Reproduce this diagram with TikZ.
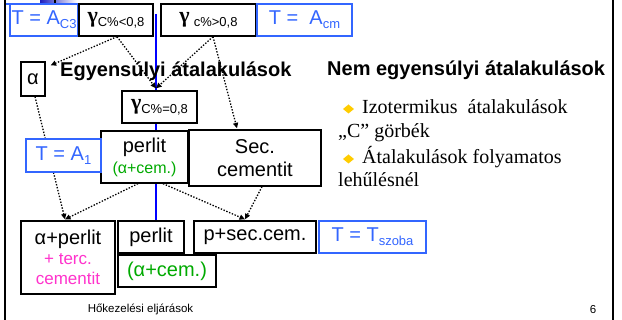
\documentclass[tikz,border=0pt]{standalone}
\usepackage{fontspec}
\setmainfont{Liberation Serif}
\setsansfont{Liberation Sans}
\usetikzlibrary{arrows.meta}
\definecolor{tblue}{RGB}{51,102,255}
\definecolor{lblue}{RGB}{0,0,255}
\definecolor{tgreen}{RGB}{0,170,0}
\definecolor{tmag}{RGB}{255,51,204}
\definecolor{tgold}{RGB}{255,204,0}
\definecolor{navy}{RGB}{30,30,190}
\newcommand\fsz[2]{\fontsize{#1}{#2}\selectfont}
\newcommand\subtxt[1]{\raisebox{-4pt}{\fsz{13}{13}#1}}
\newcommand\gam{{\rmfamily\bfseries\fsz{22}{22}γ}}
\begin{document}
\begin{tikzpicture}[x=1pt,y=-1pt,
  bx/.style={draw=black,line width=1.3pt,fill=white,inner sep=0pt,align=center,font=\sffamily\fsz{20}{23}},
  bbx/.style={bx,draw=tblue,text=tblue},
  dotarr/.style={line width=1.3pt,dash pattern=on 1.4pt off 1.6pt,-{Triangle[length=5.5pt,width=5pt]}},
  frame/.style={line width=1.6pt,black},
  txt/.style={inner sep=0pt,anchor=base west},
  bullet/.style={fill=tgold}
]
\useasboundingbox (0,0) rectangle (622,320);
% slide frame
\draw[frame] (5,0) -- (5,320);
\draw[frame] (613,0) -- (613,320);
\shade[left color=navy,right color=white] (40,0) rectangle (77,3);
\draw[line width=1.2pt] (55,0) -- (55,3);
\draw[tblue,line width=1.2pt] (6,4) -- (10,4);
% blue vertical line
\coordinate (btop) at (156,14);
\coordinate (bbot) at (156,221);
\draw[lblue,line width=1.3pt] (btop) -- (bbot);
% boxes
\node[bbx,minimum width=68pt,minimum height=32pt] (Tac3) at (44,20) {T = A\subtxt{C3}};
\node[bx,minimum width=74pt,minimum height=32pt] (g1) at (116,20) {\gam\subtxt{C\%<0,8}};
\node[bx,minimum width=95pt,minimum height=32pt] (g2) at (208.5,20) {\gam\hspace{4pt}\subtxt{c\%>0,8}};
\node[bbx,minimum width=95pt,minimum height=32pt] (Tacm) at (304.5,20) {T =\ \ A\subtxt{cm}};
\node[bx,minimum width=24pt,minimum height=34pt] (alpha) at (33,79) {α};
\node[bx,minimum width=75pt,minimum height=32pt] (g0) at (159.5,107) {\gam\subtxt{C\%=0,8}};
\node[bx,minimum width=87pt,minimum height=52pt] (perlit) at (144.5,157) {perlit\\[-2pt]{\color{tgreen}\fsz{16}{18}(α+cem.)}};
\node[bx,minimum width=132pt,minimum height=56pt] (sec) at (255,158) {Sec.\\cementit};
\node[bx,minimum width=94pt,minimum height=73pt] (ap) at (68,257.5) {α+perlit\\[-3pt]{\color{tmag}\fsz{17}{19}+ terc.}\\[-3pt]{\color{tmag}\fsz{17}{19}cementit}};
\node[bx,minimum width=66pt,minimum height=32pt] (perl2) at (151,237) {perlit};
\node[bx,text=tgreen,minimum width=98pt,minimum height=32pt] (acem) at (167,271) {(α+cem.)};
\node[bx,minimum width=122pt,minimum height=32pt] (psec) at (255,237) {p+sec.cem.};
\node[bbx,minimum width=107pt,minimum height=32pt] (Tsz) at (372.5,237) {T = T\subtxt{szoba}};
% dotted arrows
\draw[dotarr] ([xshift=1pt]g1.south) -- ([xshift=5pt,yshift=-4pt]alpha.north east);
\draw[dotarr] ([xshift=1pt]g1.south) -- ([xshift=-3.5pt,yshift=2pt]g0.north);
\draw[dotarr] ([xshift=4.5pt]g2.south) -- ([xshift=-3.5pt,yshift=2pt]g0.north);
\draw[dotarr] ([xshift=4.5pt]g2.south) -- ([xshift=-18pt,yshift=1pt]sec.north);
\draw[dotarr] ([xshift=2pt]alpha.south) -- ([xshift=-3pt,yshift=1pt]ap.north);
\draw[dotarr] ([xshift=-6.5pt]perlit.south) -- ([xshift=-3pt,yshift=1pt]ap.north);
\draw[dotarr] ([xshift=18.5pt]perlit.south) -- ([xshift=-10pt,yshift=1pt]psec.north);
\draw[dotarr] ([xshift=7pt]sec.south) -- ([xshift=-10pt,yshift=1pt]psec.north);
\node[bbx,minimum width=75pt,minimum height=33pt] (TA1) at (63.5,155.5) {T = A\subtxt{1}};
% headings
\node[txt,font=\sffamily\bfseries\fsz{20}{23}] (h1) at (60,77) {Egyensúlyi átalakulások};
\node[txt,font=\sffamily\bfseries\fsz{20}{23}] (h2) at (327,76) {Nem egyensúlyi átalakulások};
% bullet list
\fill[bullet] (348.5,104.5) -- (354,109) -- (348.5,113.5) -- (343,109) -- cycle;
\node[txt,font=\rmfamily\fsz{20}{23}] (l1) at (362,114) {Izotermikus\ \ átalakulások};
\node[txt,font=\rmfamily\fsz{20}{23}] (l2) at (338,138) {„C” görbék};
\fill[bullet] (348.5,154.5) -- (354,159) -- (348.5,163.5) -- (343,159) -- cycle;
\node[txt,font=\rmfamily\fsz{20}{23}] (l3) at (362,164) {Átalakulások folyamatos};
\node[txt,font=\rmfamily\fsz{20}{23}] (l4) at (338,187) {lehűlésnél};
% footer
\node[inner sep=0pt,anchor=base,font=\sffamily\fsz{11.5}{13}] (foot) at (140.5,313) {Hőkezelési eljárások};
\node[inner sep=0pt,anchor=base,font=\sffamily\fsz{11.5}{13}] (pg) at (593,314) {6};
\end{tikzpicture}
\end{document}
